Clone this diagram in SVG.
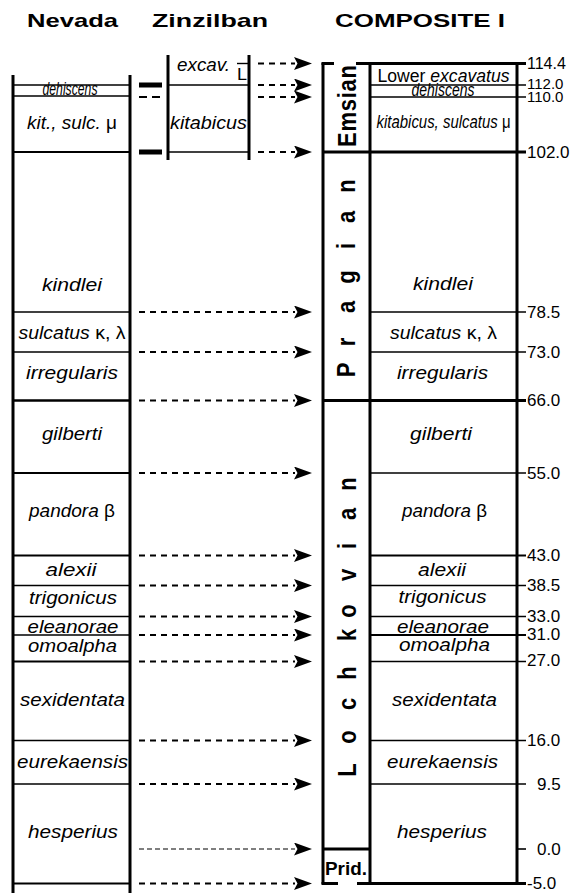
<svg xmlns="http://www.w3.org/2000/svg" width="588" height="893" viewBox="0 0 588 893">
  <defs>
    <marker id="ah" markerUnits="userSpaceOnUse" viewBox="0 0 18 13" refX="1" refY="6.5" markerWidth="18" markerHeight="13" orient="auto">
      <path d="M0,0 L18,6.5 L0,13 L3.5,6.5 Z" fill="#000"/>
    </marker>
    <style>
      .hdr { font-family: "Liberation Sans", Arial, sans-serif; font-weight: bold; font-size: 19px; fill: #000; }
      .zone { font-family: "Liberation Sans", Arial, sans-serif; font-style: italic; font-size: 18px; fill: #000; text-anchor: middle; }
      .up { font-style: normal; }
      .age { font-family: "Liberation Sans", Arial, sans-serif; font-size: 17px; fill: #000; }
      .stage { font-family: "Liberation Sans", Arial, sans-serif; font-weight: bold; font-size: 22px; fill: #000; text-anchor: middle; }
      .col { stroke: #000; stroke-width: 3; fill: none; }
      .div { stroke: #000; stroke-width: 1.6; fill: none; }
      .thk { stroke: #000; stroke-width: 3; fill: none; }
      .arr { stroke: #000; stroke-width: 2; stroke-dasharray: 6 5; fill: none; marker-end: url(#ah); }
      .arr-thin { stroke: #000; stroke-width: 1.2; stroke-dasharray: 5 3; fill: none; marker-end: url(#ah); }
    </style>
  </defs>

  <rect width="588" height="893" fill="#fff"/>

  <!-- column headings -->
  <g id="headings">
    <text class="hdr" x="72.5" y="27" text-anchor="middle" textLength="91" lengthAdjust="spacingAndGlyphs">Nevada</text>
    <text class="hdr" x="210" y="27" text-anchor="middle" textLength="116" lengthAdjust="spacingAndGlyphs">Zinzilban</text>
    <text class="hdr" x="420" y="27" text-anchor="middle" textLength="170" lengthAdjust="spacingAndGlyphs">COMPOSITE I</text>
  </g>

  <!-- Nevada section -->
  <g id="nevada">
    <line class="col" x1="13" y1="75" x2="13" y2="893"/>
    <line class="col" x1="130" y1="75" x2="130" y2="893"/>
    <g class="div">
      <line x1="13" y1="85" x2="130" y2="85" stroke-width="1.4"/>
      <line x1="13" y1="96" x2="130" y2="96" stroke-width="1.4"/>
      <line x1="13" y1="152" x2="130" y2="152" stroke-width="2"/>
      <line x1="13" y1="312" x2="130" y2="312"/>
      <line x1="13" y1="352" x2="130" y2="352"/>
      <line x1="13" y1="400.5" x2="130" y2="400.5" stroke-width="2.5"/>
      <line x1="13" y1="473" x2="130" y2="473" stroke-width="2"/>
      <line x1="13" y1="555.5" x2="130" y2="555.5" stroke-width="2"/>
      <line x1="13" y1="585.5" x2="130" y2="585.5"/>
      <line x1="13" y1="616.5" x2="130" y2="616.5"/>
      <line x1="13" y1="635" x2="130" y2="635"/>
      <line x1="13" y1="661.5" x2="130" y2="661.5" stroke-width="2"/>
      <line x1="13" y1="740.5" x2="130" y2="740.5"/>
      <line x1="13" y1="784" x2="130" y2="784"/>
      <line x1="13" y1="883.5" x2="130" y2="883.5" stroke-width="2"/>
    </g>
    <text class="zone" x="70" y="95" font-size="12" textLength="55" lengthAdjust="spacingAndGlyphs">dehiscens</text>
    <text class="zone" x="72" y="129" textLength="90" lengthAdjust="spacingAndGlyphs">kit., sulc. <tspan class="up">μ</tspan></text>
    <text class="zone" x="72" y="291" textLength="60" lengthAdjust="spacingAndGlyphs">kindlei</text>
    <text class="zone" x="72" y="339" textLength="107" lengthAdjust="spacingAndGlyphs">sulcatus <tspan class="up">κ, λ</tspan></text>
    <text class="zone" x="72" y="379" textLength="92" lengthAdjust="spacingAndGlyphs">irregularis</text>
    <text class="zone" x="72" y="440" textLength="60" lengthAdjust="spacingAndGlyphs">gilberti</text>
    <text class="zone" x="72" y="517" textLength="86" lengthAdjust="spacingAndGlyphs">pandora <tspan class="up">β</tspan></text>
    <text class="zone" x="71" y="576" textLength="51" lengthAdjust="spacingAndGlyphs">alexii</text>
    <text class="zone" x="73" y="604" textLength="88" lengthAdjust="spacingAndGlyphs">trigonicus</text>
    <text class="zone" x="73" y="633" textLength="91" lengthAdjust="spacingAndGlyphs">eleanorae</text>
    <text class="zone" x="72.5" y="652" textLength="89" lengthAdjust="spacingAndGlyphs">omoalpha</text>
    <text class="zone" x="72.5" y="706" textLength="105" lengthAdjust="spacingAndGlyphs">sexidentata</text>
    <text class="zone" x="72.5" y="768" textLength="111" lengthAdjust="spacingAndGlyphs">eurekaensis</text>
    <text class="zone" x="73" y="838" textLength="90" lengthAdjust="spacingAndGlyphs">hesperius</text>
  </g>

  <!-- correlation marks between Nevada and Zinzilban -->
  <g id="marks">
    <rect x="139" y="82.5" width="23" height="5" fill="#000"/>
    <line x1="139" y1="97" x2="147" y2="97" stroke="#000" stroke-width="2"/>
    <line x1="152" y1="97" x2="160" y2="97" stroke="#000" stroke-width="2"/>
    <rect x="139" y="149.5" width="23" height="5" fill="#000"/>
  </g>

  <!-- Zinzilban section -->
  <g id="zinzilban">
    <line class="col" x1="168" y1="55" x2="168" y2="160"/>
    <line class="col" x1="249" y1="55" x2="249" y2="160"/>
    <line class="div" x1="168" y1="85" x2="249" y2="85"/>
    <line class="div" x1="168" y1="152" x2="249" y2="152"/>
    <line x1="237" y1="63.5" x2="249" y2="63.5" stroke="#000" stroke-width="1.4"/>
    <text class="zone" x="203.5" y="71" textLength="53" lengthAdjust="spacingAndGlyphs">excav.</text>
    <text class="age" x="237" y="80" font-size="17" textLength="10" lengthAdjust="spacingAndGlyphs">L</text>
    <text class="zone" x="208.5" y="129" textLength="77" lengthAdjust="spacingAndGlyphs">kitabicus</text>
  </g>

  <!-- correlation arrows -->
  <g id="connectors">
    <line class="arr" x1="258" y1="63.5" x2="295" y2="63.5"/>
    <line class="arr" x1="258" y1="85" x2="295" y2="85"/>
    <line class="arr" x1="258" y1="97" x2="295" y2="97"/>
    <line class="arr" x1="258" y1="152" x2="295" y2="152"/>
    <line class="arr" x1="139" y1="312" x2="295" y2="312"/>
    <line class="arr" x1="139" y1="352" x2="295" y2="352"/>
    <line class="arr" x1="139" y1="400.5" x2="295" y2="400.5"/>
    <line class="arr" x1="139" y1="473" x2="295" y2="473"/>
    <line class="arr" x1="139" y1="555.5" x2="295" y2="555.5"/>
    <line class="arr" x1="139" y1="585.5" x2="295" y2="585.5"/>
    <line class="arr" x1="139" y1="616.5" x2="295" y2="616.5"/>
    <line class="arr" x1="139" y1="635" x2="295" y2="635"/>
    <line class="arr" x1="139" y1="661.5" x2="295" y2="661.5"/>
    <line class="arr" x1="139" y1="740.5" x2="295" y2="740.5"/>
    <line class="arr" x1="139" y1="784" x2="295" y2="784"/>
    <line class="arr-thin" x1="139" y1="849" x2="295" y2="849"/>
    <line class="arr" x1="139" y1="883.5" x2="295" y2="883.5" stroke-dasharray="6 3"/>
  </g>

  <!-- Composite section: stage column -->
  <g id="composite-stages">
    <line class="col" x1="323" y1="63" x2="323" y2="884"/>
    <line class="thk" x1="321.5" y1="63.5" x2="334" y2="63.5" stroke-width="2.5"/>
    <line class="thk" x1="321.5" y1="883.5" x2="338" y2="883.5" stroke-width="2.5"/>
    <line class="thk" x1="323" y1="849" x2="370" y2="849" stroke-width="2"/>
    <text class="stage" transform="translate(356,0) scale(1.2,1) rotate(-90)" x="-106" y="0" font-size="23" textLength="82">Emsian</text>
    <text class="stage" transform="translate(355,0) scale(1.2,1) rotate(-90)" x="-370 -342 -307 -277 -246 -217 -186" y="0">Pragian</text>
    <text class="stage" transform="translate(356,0) scale(1.2,1) rotate(-90)" x="-770 -737 -704 -673 -635 -611 -575 -546 -514 -484" y="0">Lochkovian</text>
    <text class="hdr" x="325" y="875" font-size="18" textLength="42" lengthAdjust="spacingAndGlyphs">Prid.</text>
  </g>

  <!-- Composite section: zone column -->
  <g id="composite-zones">
    <line class="col" x1="370" y1="63" x2="370" y2="884"/>
    <line class="col" x1="517" y1="63" x2="517" y2="884"/>
    <line class="thk" x1="356" y1="63.5" x2="526" y2="63.5" stroke-width="2.5"/>
    <line class="thk" x1="357" y1="883.5" x2="526" y2="883.5" stroke-width="2.5"/>
    <g class="div">
      <line x1="370" y1="85" x2="526" y2="85"/>
      <line x1="370" y1="97" x2="526" y2="97"/>
      <line x1="370" y1="312" x2="526" y2="312"/>
      <line x1="370" y1="352" x2="526" y2="352"/>
      <line x1="370" y1="473" x2="526" y2="473"/>
      <line x1="370" y1="555.5" x2="526" y2="555.5" stroke-width="2"/>
      <line x1="370" y1="585.5" x2="526" y2="585.5"/>
      <line x1="370" y1="616.5" x2="526" y2="616.5"/>
      <line x1="370" y1="635" x2="526" y2="635" stroke-width="2"/>
      <line x1="370" y1="661.5" x2="526" y2="661.5"/>
      <line x1="370" y1="740.5" x2="526" y2="740.5"/>
      <line x1="370" y1="784" x2="526" y2="784"/>
      <line x1="517" y1="849" x2="526" y2="849"/>
    </g>
    <line class="thk" x1="323" y1="152" x2="526" y2="152"/>
    <line class="thk" x1="323" y1="400.5" x2="526" y2="400.5"/>

    <text class="zone" x="443.5" y="81.5" font-size="15.5" textLength="132" lengthAdjust="spacingAndGlyphs"><tspan class="up">Lower </tspan>excavatus</text>
    <text class="zone" x="443" y="95.5" font-size="12" textLength="63" lengthAdjust="spacingAndGlyphs">dehiscens</text>
    <text class="zone" x="443.5" y="128" font-size="15" textLength="134" lengthAdjust="spacingAndGlyphs">kitabicus, sulcatus <tspan class="up">μ</tspan></text>
    <text class="zone" x="443" y="290" textLength="60" lengthAdjust="spacingAndGlyphs">kindlei</text>
    <text class="zone" x="443.5" y="339" textLength="107" lengthAdjust="spacingAndGlyphs">sulcatus <tspan class="up">κ, λ</tspan></text>
    <text class="zone" x="442.5" y="379" textLength="91" lengthAdjust="spacingAndGlyphs">irregularis</text>
    <text class="zone" x="441" y="440" textLength="62" lengthAdjust="spacingAndGlyphs">gilberti</text>
    <text class="zone" x="444.5" y="517" textLength="85" lengthAdjust="spacingAndGlyphs">pandora <tspan class="up">β</tspan></text>
    <text class="zone" x="442" y="576" textLength="48" lengthAdjust="spacingAndGlyphs">alexii</text>
    <text class="zone" x="442.5" y="603" textLength="88" lengthAdjust="spacingAndGlyphs">trigonicus</text>
    <text class="zone" x="443" y="633" textLength="92" lengthAdjust="spacingAndGlyphs">eleanorae</text>
    <text class="zone" x="444.5" y="651" textLength="91" lengthAdjust="spacingAndGlyphs">omoalpha</text>
    <text class="zone" x="444.5" y="706" textLength="105" lengthAdjust="spacingAndGlyphs">sexidentata</text>
    <text class="zone" x="442.5" y="768" textLength="111" lengthAdjust="spacingAndGlyphs">eurekaensis</text>
    <text class="zone" x="442" y="838" textLength="90" lengthAdjust="spacingAndGlyphs">hesperius</text>
  </g>

  <!-- age scale -->
  <g id="ages" class="age">
    <text x="527" y="69" font-size="16">114.4</text>
    <text x="527" y="88.5" font-size="15">112.0</text>
    <text x="527" y="101.5" font-size="15">110.0</text>
    <text x="527" y="158">102.0</text>
    <text x="527" y="318">78.5</text>
    <text x="527" y="358">73.0</text>
    <text x="527" y="406">66.0</text>
    <text x="527" y="479">55.0</text>
    <text x="527" y="561">43.0</text>
    <text x="527" y="591">38.5</text>
    <text x="527" y="622">33.0</text>
    <text x="527" y="640">31.0</text>
    <text x="527" y="666">27.0</text>
    <text x="527" y="746">16.0</text>
    <text x="537" y="790">9.5</text>
    <text x="537" y="855">0.0</text>
    <text x="527" y="889">-5.0</text>
  </g>
</svg>
